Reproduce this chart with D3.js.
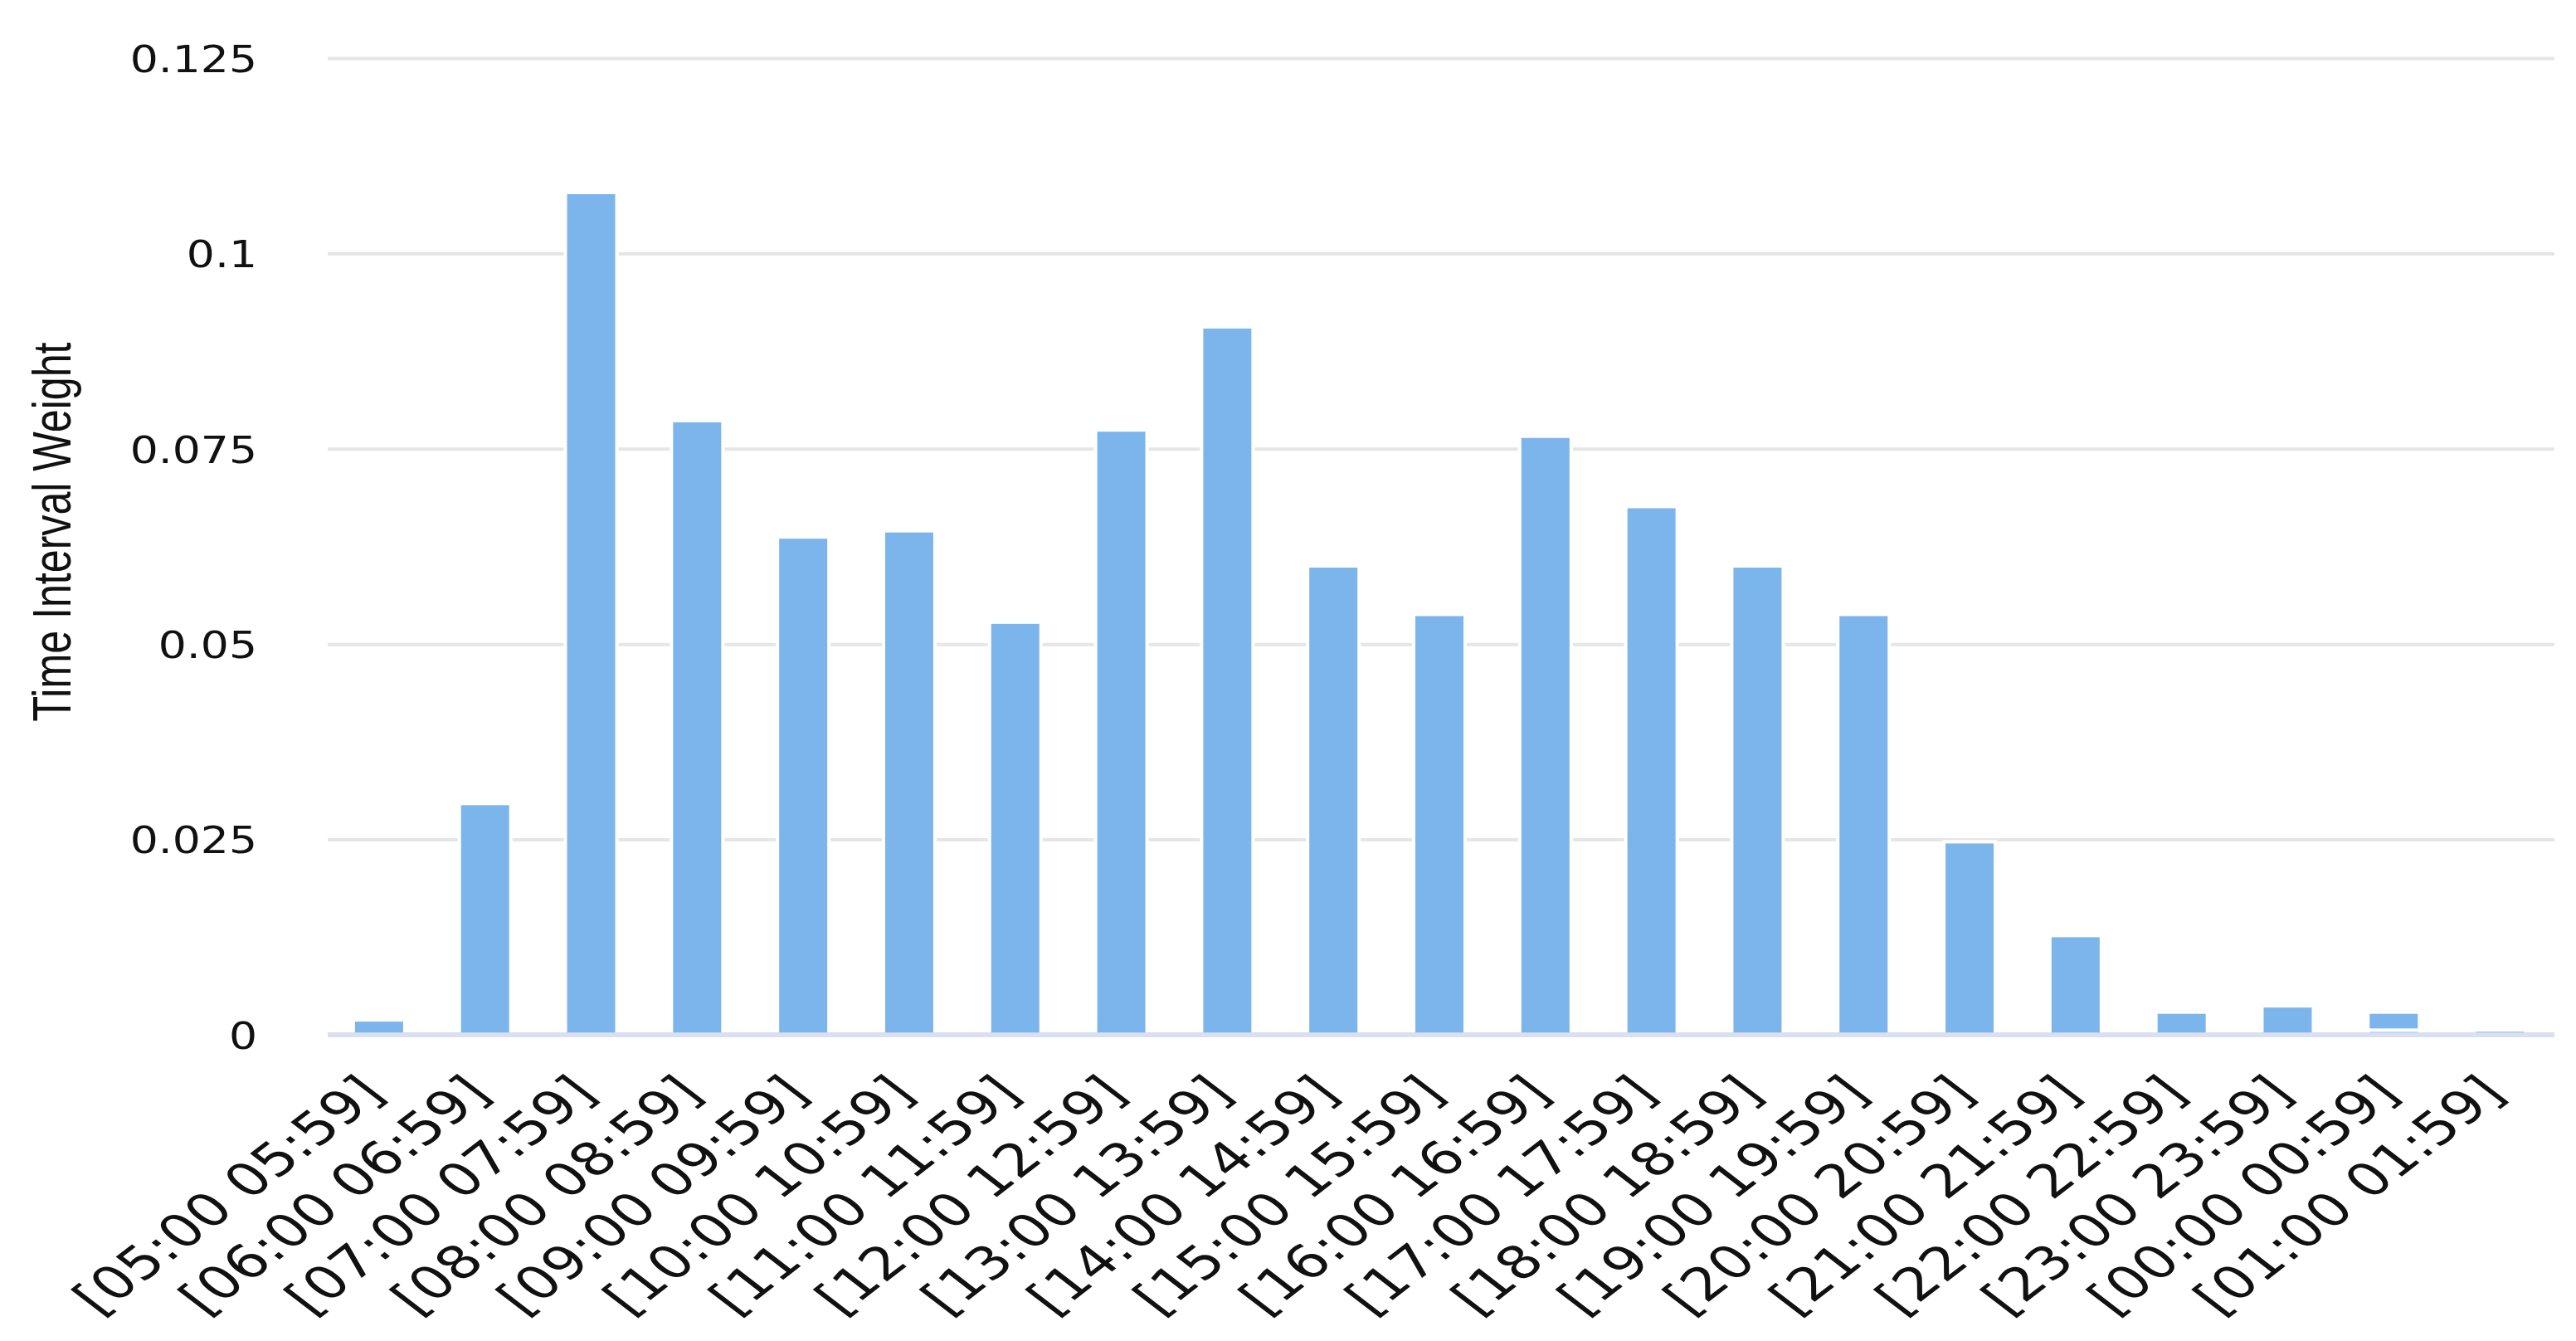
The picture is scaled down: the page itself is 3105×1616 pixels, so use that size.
<!DOCTYPE html>
<html>
<head>
<meta charset="utf-8">
<script src="https://cdn.jsdelivr.net/npm/d3@7"></script>
<style>
  body { margin: 0; background: #fff; }
  svg { display: block; }
</style>
</head>
<body>
<div id="chart"></div>
<script>
// hourly time interval weights

var width = 3105,
    height = 1616;

var categories = ["[05:00 05:59]", "[06:00 06:59]", "[07:00 07:59]", "[08:00 08:59]",
  "[09:00 09:59]", "[10:00 10:59]", "[11:00 11:59]", "[12:00 12:59]", "[13:00 13:59]",
  "[14:00 14:59]", "[15:00 15:59]", "[16:00 16:59]", "[17:00 17:59]", "[18:00 18:59]",
  "[19:00 19:59]", "[20:00 20:59]", "[21:00 21:59]", "[22:00 22:59]", "[23:00 23:59]",
  "[00:00 00:59]", "[01:00 01:59]"];

// lower piece of the stacked column (only the 00:00 slot has one)
var weightLow = [0, 0, 0, 0, 0, 0, 0, 0, 0, 0, 0, 0, 0, 0, 0, 0, 0, 0, 0, 0.0006, 0];
// upper piece
var weightHigh = [0.0019, 0.0296, 0.1078, 0.0786, 0.0637, 0.0645, 0.0528, 0.0774, 0.0906,
  0.0600, 0.0538, 0.0766, 0.0676, 0.0600, 0.0538, 0.0247, 0.0127, 0.0029, 0.0037, 0.0023, 0.0006];

var yTicks = [0, 0.025, 0.05, 0.075, 0.1, 0.125];
var yTickLabels = ["0", "0.025", "0.05", "0.075", "0.1", "0.125"];
var yTitle = "Time Interval Weight";

var margin = {top: 70, right: 26, bottom: 369, left: 395};
var barColor = "#7cb5ec",
    gridColor = "#e6e6e6",
    axisColor = "#d3dbef",
    stretch = 1.3;   // the source picture is widened sideways

var svg = d3.select("#chart").append("svg")
    .attr("width", width)
    .attr("height", height);

var x = d3.scaleBand()
    .domain(categories)
    .range([margin.left - 2, width - margin.right - 2])
    .paddingInner(0.515)
    .paddingOuter(0.2575);

var y = d3.scaleLinear()
    .domain([0, 0.125])
    .range([height - margin.bottom, margin.top]);

// grid + y labels
var yAxis = d3.axisLeft(y)
    .tickValues(yTicks)
    .tickFormat(function(d, i) { return yTickLabels[i]; })
    .tickSize(-(width - margin.left - margin.right))
    .tickPadding(0);

var gy = svg.append("g")
    .attr("transform", "translate(" + margin.left + ",0)")
    .call(yAxis);
gy.select(".domain").remove();
gy.selectAll(".tick line")
    .attr("stroke", gridColor)
    .attr("stroke-width", 4)
    .filter(function(d) { return d === 0; }).remove();
gy.selectAll(".tick text")
    .attr("x", 0)
    .attr("dy", "0.36em")
    .attr("transform", "translate(-85,0) scale(1.19,1)")
    .attr("fill", "#111")
    .style("font-family", "'DejaVu Sans', Verdana, sans-serif")
    .style("font-size", "45px");

// stacked columns
var rows = categories.map(function(c, i) { return {cat: c, low: weightLow[i], high: weightHigh[i]}; });
var stack = d3.stack().keys(["low", "high"]);
var layers = stack(rows);

svg.append("g").selectAll("g")
  .data(layers)
  .enter().append("g")
  .selectAll("rect")
  .data(function(d) { return d.filter(function(s) { return s[1] - s[0] > 0; }); })
  .enter().append("rect")
    .attr("x", function(d) { return x(d.data.cat); })
    .attr("width", x.bandwidth())
    .attr("y", function(d) { return y(d[1]); })
    .attr("height", function(d) { return y(d[0]) - y(d[1]); })
    .attr("fill", barColor)
    .attr("stroke", "#fff")
    .attr("stroke-width", 4);

// x axis line and rotated labels
var xAxis = d3.axisBottom(x).tickSize(0).tickPadding(0);
var gx = svg.append("g")
    .attr("transform", "translate(0," + y(0) + ")")
    .call(xAxis);
gx.select(".domain")
    .attr("d", "M" + margin.left + ",0H" + (width - margin.right))
    .attr("stroke", axisColor)
    .attr("stroke-opacity", 0.85)
    .attr("stroke-width", 6);
gx.selectAll(".tick text")
    .attr("x", 0)
    .attr("y", 0)
    .attr("dy", 0)
    .attr("text-anchor", "end")
    .attr("transform", "translate(9,73) scale(" + stretch + ",1) rotate(-45)")
    .attr("fill", "#111")
    .style("font-family", "'DejaVu Sans', Verdana, sans-serif")
    .style("font-size", "55px");

// y title
svg.append("text")
    .attr("transform", "translate(85," + 641 + ") scale(" + stretch + ",1) rotate(-90)")
    .attr("text-anchor", "middle")
    .attr("textLength", 457)
    .attr("lengthAdjust", "spacingAndGlyphs")
    .attr("fill", "#111")
    .style("font-family", "'Liberation Sans Narrow', 'Liberation Sans', Arial, sans-serif")
    .style("font-size", "50px")
    .text(yTitle);
</script>
</body>
</html>
